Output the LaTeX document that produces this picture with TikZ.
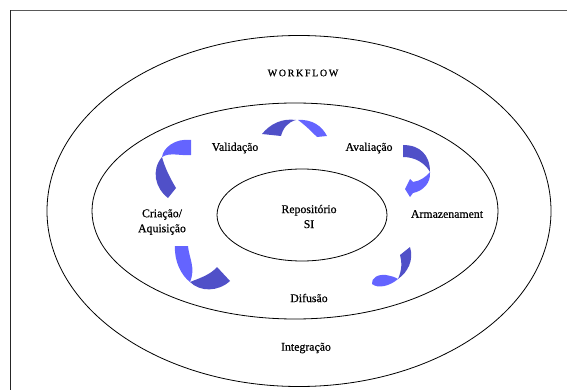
\documentclass[tikz,border=0pt]{standalone}
\usepackage{fontspec}
\setmainfont{Liberation Serif}
\newfontfamily\lblfont[FakeBold=0.6]{Liberation Serif}
\usetikzlibrary{shapes.geometric}
\begin{document}
\begin{tikzpicture}[x=1pt,y=-1pt,
  ring/.style={draw=black,line width=0.8pt},
  lbl/.style={font=\lblfont\fontsize{11.8}{13}\selectfont,inner sep=0pt,align=center},
  darkpart/.style={fill=arrowdark,draw=none},
  lightpart/.style={fill=arrowlight,draw=none}]
\definecolor{arrowdark}{RGB}{80,80,200}
\definecolor{arrowlight}{RGB}{100,100,255}
\useasboundingbox (0,0) rectangle (567,390);
% frame
\coordinate (fr1) at (567,10.5);
\coordinate (fr2) at (10.5,10.5);
\coordinate (fr3) at (10.5,390);
\draw[gray!70!black,line width=0.9pt] (fr1) -- (fr2);
\draw[black!85,line width=0.9pt] (fr2) -- (fr3);
% ellipses
\node[ring,ellipse,minimum width=504pt,minimum height=351pt] (outer) at (299,211) {};
\node[ring,ellipse,minimum width=406pt,minimum height=216pt] (middle) at (295,211) {};
\node[ring,ellipse,minimum width=170pt,minimum height=92pt] (inner) at (302,215) {};
% labels
\node[lbl,font=\lblfont\fontsize{10}{12}\selectfont] (wf) at (303,73) {W\,O\,R\,K\,F\,L\,O\,W};
\node[lbl] (val) at (235,148) {Validação};
\node[lbl] (ava) at (369,148) {Avaliação};
\node[lbl] (arm) at (447,214) {Armazenament};
\node[lbl] (cri) at (162,222) {Criação/\\[2pt]Aquisição};
\node[lbl] (rep) at (309,216.5) {Repositório\\[2pt]SI};
\node[lbl] (dif) at (309,298) {Difusão};
\node[lbl] (int) at (306,348) {Integração};
% arrow 1 (top)
\fill[darkpart] (262,134) .. controls (270,124) and (282,118) .. (296,120)
  .. controls (288,122) and (283,128) .. (281,136) -- cycle;
\fill[lightpart] (298,120) .. controls (312,119) and (322,126) .. (327,136)
  -- (317,137) .. controls (312,132) and (305,125) .. (298,120) -- cycle;
% arrow 2 (right top)
\fill[darkpart] (403,145) .. controls (420,145) and (430,155) .. (430,172)
  .. controls (425,163) and (415,157) .. (403,157) -- cycle;
\fill[lightpart] (430,172) .. controls (431,183) and (423,191) .. (413,193)
  -- (410,197) -- (405,189) -- (410,179) -- (413,182)
  .. controls (420,181) and (426,177) .. (430,172) -- cycle;
% arrow 3 (right bottom)
\fill[darkpart] (410,247) .. controls (414,260) and (408,272) .. (398,279)
  .. controls (402,270) and (402,262) .. (400,255) -- cycle;
\fill[lightpart] (398,279) .. controls (390,286) and (378,289) .. (372,284)
  .. controls (371,278) and (378,274) .. (386,275)
  .. controls (391,276) and (395,277) .. (398,279) -- cycle;
% arrow 4 (left bottom)
\fill[lightpart] (175,246) -- (188,246) .. controls (189,258) and (196,268) .. (190,282)
  .. controls (182,276) and (174,262) .. (175,246) -- cycle;
\fill[darkpart] (190,282) .. controls (200,292) and (218,292) .. (230,281)
  -- (217,267) .. controls (210,275) and (200,278) .. (190,282) -- cycle;
% arrow 5 (left top)
\fill[lightpart] (191,140) -- (191,155) .. controls (180,156) and (170,152) .. (162,157)
  .. controls (163,148) and (175,138) .. (191,140) -- cycle;
\fill[darkpart] (162,157) .. controls (151,170) and (155,188) .. (168,198)
  -- (176,188) .. controls (170,178) and (165,168) .. (162,157) -- cycle;
\end{tikzpicture}
\end{document}
